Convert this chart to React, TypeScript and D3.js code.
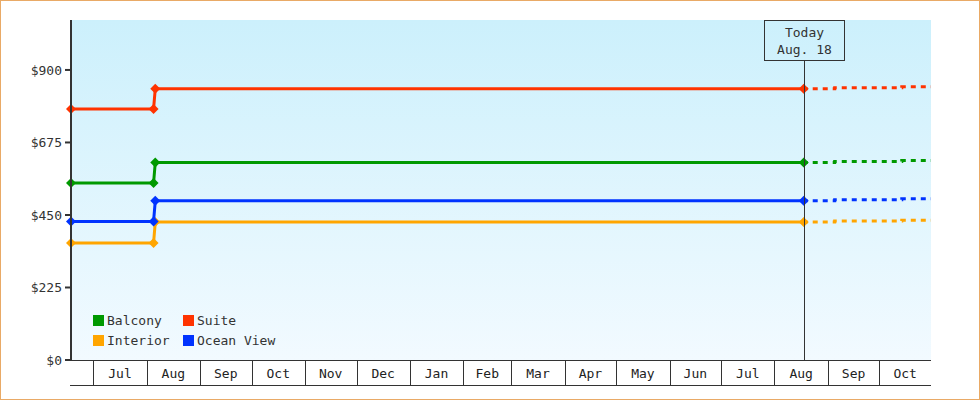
import React from "react";
import * as d3 from "d3";

const seriesNames = ["Balcony", "Suite", "Interior", "Ocean View"];
const seriesColors = ["#009900", "#ff3300", "#ffa500", "#0033ff"];

const historyDates = ["2024-06-18", "2024-08-05", "2024-08-06", "2025-08-18"];
const balconyHistory = [549, 549, 613, 613];
const suiteHistory = [779, 779, 842, 842];
const interiorHistory = [363, 363, 428, 428];
const oceanHistory = [430, 430, 494, 494];

const forecastDates = ["2025-08-18", "2025-09-05", "2025-09-05", "2025-10-14", "2025-10-14", "2025-10-31"];
const balconyForecast = [613, 613, 616, 616, 619, 619];
const suiteForecast = [842, 842, 845, 845, 848, 848];
const interiorForecast = [428, 428, 431, 431, 434, 434];
const oceanForecast = [494, 494, 497, 497, 500, 500];

const yTickValues = [0, 225, 450, 675, 900];
const todayDate = "2025-08-18";
const todayLabel = ["Today", "Aug. 18"];
const domainStart = "2024-06-18";
const domainEnd = "2025-10-31";

const W = 980;
const H = 400;
const left = 71;
const right = 931;
const top = 20;
const bottom = 360;
const axisBottom = 386;
const FONT = "'DejaVu Sans Mono', monospace";
const TEXT = "#333";

const parse = d3.timeParse("%Y-%m-%d");

export default function App() {
  const x = d3
    .scaleTime()
    .domain([parse(domainStart)!, parse(domainEnd)!])
    .range([left, right]);
  const y = d3.scaleLinear().domain([0, 1055]).range([bottom, top]);

  const histories = [balconyHistory, suiteHistory, interiorHistory, oceanHistory];
  const forecasts = [balconyForecast, suiteForecast, interiorForecast, oceanForecast];
  const hDates = historyDates.map((d) => parse(d)!);
  const fDates = forecastDates.map((d) => parse(d)!);

  const line = d3
    .line<[Date, number]>()
    .x((d) => x(d[0]))
    .y((d) => y(d[1]));

  const monthStarts = d3.timeMonth.range(
    d3.timeMonth.ceil(parse(domainStart)!),
    parse(domainEnd)!
  );
  const cellEdges = [...monthStarts, parse(domainEnd)!];
  const fmtMonth = d3.timeFormat("%b");
  const fmtMoney = d3.format("$,");

  const todayX = Math.round(x(parse(todayDate)!)) + 0.5;

  const diamond = (cx: number, cy: number, r: number) =>
    `M${cx},${cy - r}L${cx + r},${cy}L${cx},${cy + r}L${cx - r},${cy}Z`;

  // draw order: interior, ocean, balcony, suite
  const order = [2, 3, 0, 1];

  return (
    <svg
      width={W}
      height={H}
      style={{ position: "absolute", left: 0, top: 0 }}
      fontFamily={FONT}
      fontSize={13}
    >
      <defs>
        <linearGradient id="bg" x1="0" y1="0" x2="0" y2="1">
          <stop offset="0%" stopColor="#ccf0fc" />
          <stop offset="100%" stopColor="#f2faff" />
        </linearGradient>
      </defs>
      <rect x={0.5} y={0.5} width={W - 1} height={H - 1} fill="#fff" stroke="#e9aa66" />
      <rect x={left} y={top} width={right - left} height={bottom - top} fill="url(#bg)" />

      {/* series */}
      {order.map((i) => {
        const hist = hDates.map((d, k) => [d, histories[i][k]] as [Date, number]);
        const fc = fDates.map((d, k) => [d, forecasts[i][k]] as [Date, number]);
        return (
          <g key={seriesNames[i]}>
            <path d={line(fc)!} fill="none" stroke={seriesColors[i]} strokeWidth={3} strokeDasharray="5,5" strokeDashoffset={1} />
            <path d={line(hist)!} fill="none" stroke={seriesColors[i]} strokeWidth={3} />
            {hist.map((p, k) => (
              <path key={k} d={diamond(x(p[0]), y(p[1]), 5)} fill={seriesColors[i]} />
            ))}
          </g>
        );
      })}

      {/* today line and box */}
      <line x1={todayX} x2={todayX} y1={60} y2={bottom} stroke={TEXT} strokeWidth={1} />
      <rect x={todayX - 40} y={20.5} width={80} height={40} fill="none" stroke={TEXT} strokeWidth={1} />
      <text x={todayX} y={37} textAnchor="middle" fill={TEXT}>{todayLabel[0]}</text>
      <text x={todayX} y={54} textAnchor="middle" fill={TEXT}>{todayLabel[1]}</text>

      {/* y axis */}
      <line x1={left} x2={left} y1={top} y2={bottom + 1} stroke={TEXT} strokeWidth={2} />
      {yTickValues.map((v) => (
        <g key={v}>
          <line x1={left - 6} x2={left} y1={y(v)} y2={y(v)} stroke={TEXT} strokeWidth={2} />
          <text x={left - 9} y={y(v)} dy="0.35em" textAnchor="end" fill={TEXT}>
            {fmtMoney(v)}
          </text>
        </g>
      ))}

      {/* x axis band */}
      <line x1={left} x2={right} y1={bottom + 0.5} y2={bottom + 0.5} stroke={TEXT} strokeWidth={1} />
      <line x1={left - 1} x2={right} y1={axisBottom - 0.5} y2={axisBottom - 0.5} stroke={TEXT} strokeWidth={1} />
      {monthStarts.map((m, k) => {
        const xs = Math.round(x(m)) + 0.5;
        return (
          <line key={k} x1={xs} x2={xs} y1={bottom} y2={axisBottom} stroke={TEXT} strokeWidth={1} />
        );
      })}
      {monthStarts.map((m, k) => {
        const cx = (x(m) + x(cellEdges[k + 1])) / 2;
        return (
          <text key={k} x={cx} y={378} textAnchor="middle" fill="#222">
            {fmtMonth(m)}
          </text>
        );
      })}

      {/* legend */}
      {seriesNames.map((n, i) => {
        const col = i % 2;
        const row = Math.floor(i / 2);
        const lx = 93 + col * 90;
        const ly = 315 + row * 20;
        return (
          <g key={n}>
            <rect x={lx} y={ly} width={11} height={11} fill={seriesColors[i]} />
            <text x={lx + 14} y={ly + 10} fill={TEXT}>{n}</text>
          </g>
        );
      })}
    </svg>
  );
}
